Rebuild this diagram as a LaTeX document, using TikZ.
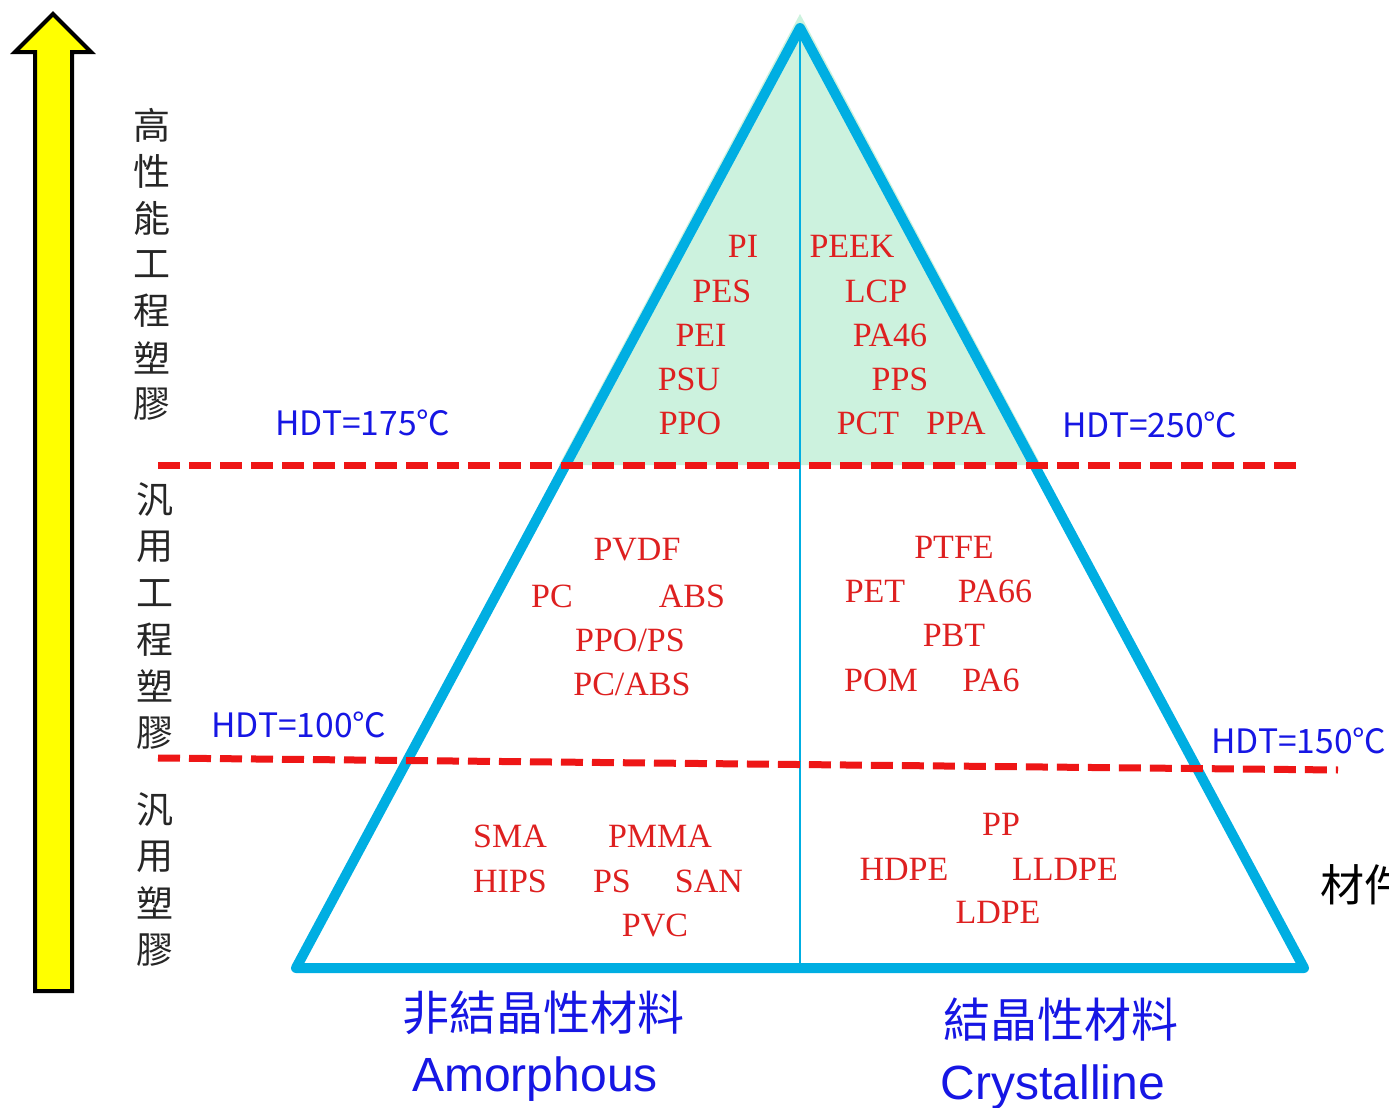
\documentclass[tikz,border=0pt]{standalone}
\usepackage{fontspec}
\setmainfont{Liberation Serif}
\newfontfamily\cjk{Noto Sans CJK TC}
\newfontfamily\arialf{Liberation Sans}
\definecolor{triblue}{RGB}{0,174,226}
\definecolor{mint}{RGB}{204,242,222}
\definecolor{dashred}{RGB}{238,22,22}
\definecolor{matred}{RGB}{222,32,32}
\definecolor{lblblue}{RGB}{22,22,228}
\definecolor{arrowyellow}{RGB}{255,255,0}
\tikzset{
  mat/.style={text=matred, font=\fontsize{17}{20}\selectfont, inner sep=0pt},
  hdt/.style={text=lblblue, font=\cjk\fontsize{16.8}{20}\selectfont, inner sep=0pt},
  vchar/.style={text=black!85, font=\cjk\fontsize{18.5}{20}\selectfont, inner sep=0pt},
  botcjk/.style={text=lblblue, font=\cjk\fontsize{23.5}{26}\selectfont, inner sep=0pt},
  boteng/.style={text=lblblue, font=\arialf\fontsize{24}{28}\selectfont, inner sep=0pt, anchor=base},
  hdtline/.style={draw=dashred, line width=3.5pt, dash pattern=on 11pt off 4.5pt},
  triline/.style={draw=triblue, line width=5pt, line join=round, line cap=round},
}
\begin{document}
\begin{tikzpicture}[x=0.5pt,y=-0.5pt]
\clip (0,0) rectangle (1389,1108);
\useasboundingbox (0,0) rectangle (1389,1108);
\fill[white] (0,0) rectangle (1389,1108);

% yellow arrow
\draw[fill=arrowyellow, draw=black, line width=2pt, line join=miter]
  (53,14) -- (91,52) -- (72,52) -- (72,991) -- (35,991) -- (35,52) -- (15,52) -- cycle;

% coordinates
\coordinate (apex) at (800,28);
\coordinate (bl) at (296,968);
\coordinate (br) at (1304,968);
\coordinate (bm) at (800,968);
\coordinate (gtop) at (800,14);
\coordinate (gl) at (559,465);
\coordinate (gr) at (1041,465);
\coordinate (d1a) at (158,465);
\coordinate (d1b) at (1303,465);
\coordinate (d2a) at (158,758);
\coordinate (d2b) at (1338,770);

% green top region
\fill[mint] (gtop) -- (gl) -- (gr) -- cycle;
% center line
\draw[triblue, line width=1pt] (apex) -- (bm);
% triangle
\draw[triline] (apex) -- (bl) -- (br) -- cycle;
% dashed lines
\draw[hdtline] (d1a) -- (d1b);
\draw[hdtline] (d2a) -- (d2b);

% HDT labels
\node[hdt] (h175) at (363,423) {HDT=175℃};
\node[hdt] (h250) at (1150,425) {HDT=250℃};
\node[hdt] (h100) at (299,725) {HDT=100℃};
\node[hdt] (h150) at (1299,741) {HDT=150℃};

% top materials
\node[mat] (pi) at (743,246) {PI};
\node[mat] (pes) at (722,291) {PES};
\node[mat] (pei) at (701,335) {PEI};
\node[mat] (psu) at (689,379) {PSU};
\node[mat] (ppo) at (690,423) {PPO};
\node[mat] (peek) at (852,246) {PEEK};
\node[mat] (lcp) at (876,291) {LCP};
\node[mat] (pa46) at (890,335) {PA46};
\node[mat] (pps) at (900,379) {PPS};
\node[mat] (pct) at (868,423) {PCT};
\node[mat] (ppa) at (956,423) {PPA};

% middle materials
\node[mat] (pvdf) at (637,550) {PVDF};
\node[mat] (pc) at (552,596) {PC};
\node[mat] (abs) at (692,596) {ABS};
\node[mat] (ppops) at (630,640) {PPO/PS};
\node[mat] (pcabs) at (632,684) {PC/ABS};
\node[mat] (ptfe) at (954,547) {PTFE};
\node[mat] (pet) at (875,591) {PET};
\node[mat] (pa66) at (995,591) {PA66};
\node[mat] (pbt) at (954,635) {PBT};
\node[mat] (pom) at (881,680) {POM};
\node[mat] (pa6) at (991,680) {PA6};

% bottom materials
\node[mat] (sma) at (510,836) {SMA};
\node[mat] (pmma) at (660,836) {PMMA};
\node[mat] (hips) at (510,881) {HIPS};
\node[mat] (ps) at (612,881) {PS};
\node[mat] (san) at (709,881) {SAN};
\node[mat] (pvc) at (655,925) {PVC};
\node[mat] (pp) at (1001,824) {PP};
\node[mat] (hdpe) at (904,869) {HDPE};
\node[mat] (lldpe) at (1065,869) {LLDPE};
\node[mat] (ldpe) at (998,912) {LDPE};

% vertical labels
\foreach \c [count=\i] in {高,性,能,工,程,塑,膠}
  \node[vchar] (va\i) at (152,{125+(\i-1)*46.5}) {\c};
\foreach \c [count=\i] in {汎,用,工,程,塑,膠}
  \node[vchar] (vb\i) at (155,{500+(\i-1)*46.6}) {\c};
\foreach \c [count=\i] in {汎,用,塑,膠}
  \node[vchar] (vc\i) at (155,{810+(\i-1)*46.7}) {\c};

% bottom labels
\node[botcjk] (amcjk) at (543,1013) {非結晶性材料};
\node[boteng] (amen) at (535,1091) {Amorphous};
\node[botcjk] (crcjk) at (1061,1020) {結晶性材料};
\node[boteng] (cren) at (1053,1099) {Crystalline};

% cut-off text at right edge (cut off in the reference too)
\node[text=black, font=\cjk\fontsize{22}{24}\selectfont, inner sep=0pt, anchor=west] (cut) at (1320,885) {材件};
\end{tikzpicture}
\end{document}
